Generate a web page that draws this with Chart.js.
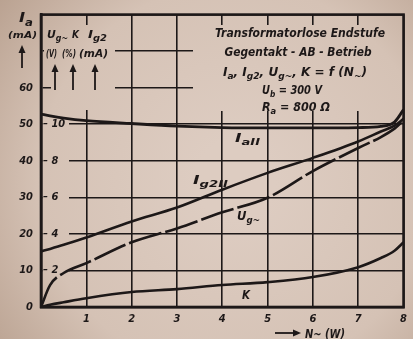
<!DOCTYPE html>
<html>
<head>
<meta charset="utf-8">
<script src="https://cdn.jsdelivr.net/npm/chart.js@4/dist/chart.umd.min.js"></script>
<style>
  html, body { margin: 0; padding: 0; background: #d8c7bb; }
  canvas { display: block; }
</style>
</head>
<body>
<canvas id="grafico" width="413" height="339"></canvas>
<script>
const leistung = [0, 0.2, 0.5, 1, 2, 3, 4, 5, 6, 7, 7.5, 7.8, 8];
// Anodenstrom Ia II in mA (linke Skala 0..80)
const anodenstrom = [52.8, 52.3, 51.7, 51.0, 50.2, 49.5, 49.1, 49.0, 49.0, 49.1, 49.4, 50.6, 54.0];
// Schirmgitterstrom Ig2 II in mA (innere Skala)
const schirmstrom = [3.04, 3.18, 3.4, 3.8, 4.68, 5.44, 6.42, 7.34, 8.16, 9.06, 9.6, 9.92, 10.3];
// Gitterwechselspannung Ug~ in V (innere Skala)
const gitterspannung = [0, 1.2, 1.86, 2.4, 3.54, 4.3, 5.18, 5.98, 7.44, 8.7, 9.3, 9.76, 10.2];
// Klirrfaktor K in % (innere Skala)
const klirrfaktor = [0, 0.12, 0.26, 0.48, 0.82, 0.98, 1.2, 1.36, 1.64, 2.18, 2.68, 3.08, 3.54];

// Achsenbeschriftungen
const xTicks = [1, 2, 3, 4, 5, 6, 7, 8];
const yTicksIa = [0, 10, 20, 30, 40, 50, 60];
const yTicksInnen = [2, 4, 6, 8, 10];

const FAM = '"DejaVu Sans Condensed", "Liberation Sans Narrow", "DejaVu Sans", sans-serif';
const TINTE = '#1d1818';

const canvas = document.getElementById('grafico');
const ctx = canvas.getContext('2d');

// Papierfarbe mit leichter Abdunklung zu den Ecken hin
const papier = ctx.createRadialGradient(235, 180, 40, 235, 180, 300);
papier.addColorStop(0, '#ddccc1');
papier.addColorStop(0.6, '#d5c2b5');
papier.addColorStop(1, '#b9a190');

function punkte(werte) {
  return leistung.map((p, i) => ({ x: p, y: werte[i] }));
}

// Text mit Indizes, auf eine bestimmte Breite gestreckt
function rich(c, teile, x, y, size, breite, align) {
  const fN = 'italic bold ' + size + 'px ' + FAM;
  const fS = 'italic bold ' + Math.round(size * 0.72) + 'px ' + FAM;
  let w = 0;
  const ws = teile.map(([t, sub]) => { c.font = sub ? fS : fN; const m = c.measureText(t).width; w += m; return m; });
  const sx = breite ? breite / w : 1;
  c.save();
  c.fillStyle = TINTE;
  c.textBaseline = 'alphabetic';
  c.textAlign = 'left';
  const x0 = align === 'center' ? x - (w * sx) / 2 : x;
  c.translate(x0, y);
  c.scale(sx, 1);
  let cx = 0;
  teile.forEach(([t, sub], i) => {
    c.font = sub ? fS : fN;
    c.fillText(t, cx, sub ? size * 0.28 : 0);
    cx += ws[i];
  });
  c.restore();
}

function pfeil(c, x1, y1, x2, y2) {
  const a = Math.atan2(y2 - y1, x2 - x1);
  c.save();
  c.strokeStyle = TINTE; c.fillStyle = TINTE; c.lineWidth = 1.8;
  c.beginPath(); c.moveTo(x1, y1); c.lineTo(x2 - 5 * Math.cos(a), y2 - 5 * Math.sin(a)); c.stroke();
  c.beginPath();
  c.moveTo(x2, y2);
  c.lineTo(x2 - 8 * Math.cos(a) + 3.5 * Math.sin(a), y2 - 8 * Math.sin(a) - 3.5 * Math.cos(a));
  c.lineTo(x2 - 8 * Math.cos(a) - 3.5 * Math.sin(a), y2 - 8 * Math.sin(a) + 3.5 * Math.cos(a));
  c.closePath(); c.fill();
  c.restore();
}

const deko = {
  id: 'deko',
  beforeDraw(chart) {
    const c = chart.ctx;
    c.save(); c.fillStyle = papier; c.fillRect(0, 0, chart.width, chart.height); c.restore();
  },
  beforeDatasetsDraw(chart) {
    // Gitter hinter Kopfzeile, Titelblock und inneren Skalenwerten ausblenden
    const c = chart.ctx;
    c.save();
    c.fillStyle = papier;
    c.fillRect(44, 25, 71, 46);
    c.fillRect(51, 70, 64, 40);
    c.fillRect(193, 25, 211, 86);
    yTicksInnen.forEach(v => {
      const py = chart.scales.y2.getPixelForValue(v);
      c.fillRect(43, py - 4, 26, 8);
    });
    c.restore();
  },
  afterDraw(chart) {
    const c = chart.ctx;
    const a = chart.chartArea;
    c.save();
    c.strokeStyle = TINTE; c.lineWidth = 2.6;
    c.strokeRect(a.left, a.top, a.right - a.left, a.bottom - a.top);
    c.restore();

    // Linke Kopfbeschriftung
    rich(c, [['I', 0], ['a', 1]], 19, 22, 14, 14);
    rich(c, [['(mA)', 0]], 8, 38, 9, 29);
    pfeil(c, 22, 68, 22, 45);
    rich(c, [['U', 0], ['g~', 1]], 47, 38, 11, 21);
    rich(c, [['K', 0]], 72, 38, 11, 7);
    rich(c, [['I', 0], ['g2', 1]], 88, 38, 11, 19);
    rich(c, [['(V)', 0]], 46, 57, 10, 11);
    rich(c, [['(%)', 0]], 62, 57, 10, 14);
    rich(c, [['(mA)', 0]], 79, 57, 10, 29);
    pfeil(c, 55, 90, 55, 64);
    pfeil(c, 73, 90, 73, 64);
    pfeil(c, 95, 90, 95, 64);

    // Titelblock
    rich(c, [['Transformatorlose Endstufe', 0]], 300, 37, 12, 170, 'center');
    rich(c, [['Gegentakt - AB - Betrieb', 0]], 298, 56, 12, 147, 'center');
    rich(c, [['I', 0], ['a', 1], [', I', 0], ['g2', 1], [', U', 0], ['g~', 1], [', K = f (N', 0], ['~', 1], [')', 0]], 295, 76, 12, 144, 'center');
    rich(c, [['U', 0], ['b', 1], [' = 300 V', 0]], 292, 94, 12, 60, 'center');
    rich(c, [['R', 0], ['a', 1], [' = 800 Ω', 0]], 296, 111, 12, 68, 'center');

    // Kurvenbeschriftungen
    rich(c, [['I', 0], ['aII', 1]], 235, 142, 12, 25);
    rich(c, [['I', 0], ['g2II', 1]], 193, 184, 12, 35);
    rich(c, [['U', 0], ['g~', 1]], 237, 220, 12, 23);
    rich(c, [['K', 0]], 242, 299, 12, 8);

    // x-Achsentitel
    pfeil(c, 275, 333, 301, 333);
    rich(c, [['N~ (W)', 0]], 305, 338, 12, 40);
  }
};

const tickFont = { family: FAM, style: 'italic', weight: 'bold', size: 11 };

new Chart(canvas, {
  type: 'line',
  data: {
    datasets: [
      { label: 'Ia II', data: punkte(anodenstrom), yAxisID: 'y', borderColor: TINTE, borderWidth: 2.8 },
      { label: 'Ig2 II', data: punkte(schirmstrom), yAxisID: 'y2', borderColor: TINTE, borderWidth: 2.6 },
      { label: 'Ug~', data: punkte(gitterspannung), yAxisID: 'y2', borderColor: TINTE, borderWidth: 2.6, borderDash: [34, 4] },
      { label: 'K', data: punkte(klirrfaktor), yAxisID: 'y2', borderColor: TINTE, borderWidth: 2.6 }
    ]
  },
  options: {
    responsive: false,
    animation: false,
    devicePixelRatio: 1,
    layout: { padding: { left: 0, right: 4, top: 13, bottom: 0 } },
    elements: { point: { radius: 0 }, line: { cubicInterpolationMode: 'monotone' } },
    plugins: { legend: { display: false }, tooltip: { enabled: false } },
    scales: {
      x: {
        type: 'linear', min: 0, max: 8,
        ticks: { stepSize: 1, color: TINTE, font: tickFont, padding: 6, maxRotation: 0,
          callback: v => xTicks.includes(v) ? String(v) : '' },
        grid: { color: TINTE, lineWidth: 1.6, drawTicks: false },
        border: { color: TINTE, width: 2.6 },
        afterFit: s => { s.height = 32; }
      },
      y: {
        position: 'left', weight: 1, min: 0, max: 80,
        ticks: { stepSize: 10, color: TINTE, font: tickFont, padding: 8,
          callback: v => yTicksIa.includes(v) ? String(v) : '' },
        grid: { color: TINTE, lineWidth: 1.6, drawTicks: false },
        border: { color: TINTE, width: 2.6 },
        afterFit: s => { s.width = 41; }
      },
      y2: {
        position: 'left', weight: 0, min: 0, max: 16,
        afterBuildTicks: s => { s.ticks = yTicksInnen.map(v => ({ value: v })); },
        ticks: { mirror: true, padding: 2, color: TINTE, font: tickFont, z: 1,
          callback: v => '– ' + v },
        grid: { display: false },
        border: { display: false },
        afterFit: s => { s.width = 0; }
      }
    }
  },
  plugins: [deko]
});
</script>
</body>
</html>
